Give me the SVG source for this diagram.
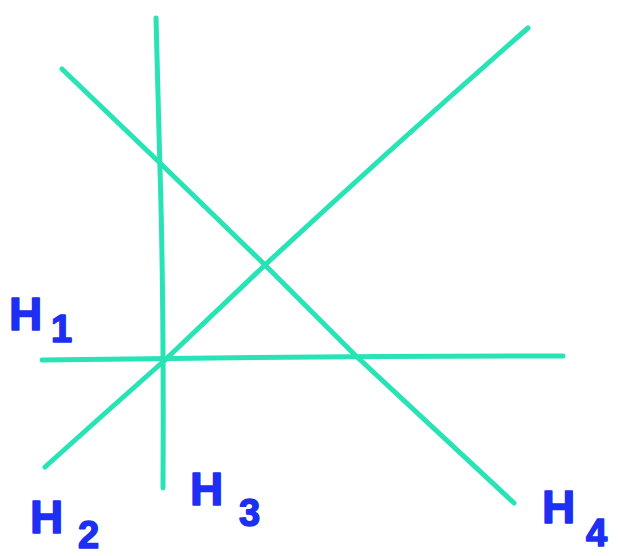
<svg xmlns="http://www.w3.org/2000/svg" width="621" height="556" viewBox="0 0 621 556">
<style>
.ln{fill:none;stroke:#27e3b5;stroke-width:5;stroke-linecap:round;stroke-linejoin:round}
.lb{font-family:"Liberation Sans",Arial,sans-serif;font-weight:bold;fill:#1c2ff2;stroke:#1c2ff2;stroke-width:1.5;stroke-linejoin:round}
.h{font-size:46px}
.s{font-size:38px}
</style>
<rect width="621" height="556" fill="#ffffff"/>
<g id="connectors">
<path class="ln" d="M156,18 Q158,100 160,170 Q164,300 163,488"/>
<path class="ln" d="M62,69 Q110,115 160,163 L265,265 Q310,310 355,355 L514,503"/>
<path class="ln" d="M45,467 Q105,413 165,360 L265,265 Q400,140 528,28"/>
<path class="ln" d="M42,360 Q300,356 563,356"/>
</g>
<g id="H1"><text class="lb" y="330"><tspan class="h" x="9">H</tspan><tspan class="s" x="51" y="342">1</tspan></text></g>
<g id="H2"><text class="lb" y="533"><tspan class="h" x="30">H</tspan><tspan class="s" x="78" y="548">2</tspan></text></g>
<g id="H3"><text class="lb" y="505"><tspan class="h" x="190">H</tspan><tspan class="s" x="239" y="526">3</tspan></text></g>
<g id="H4"><text class="lb" y="523"><tspan class="h" x="542">H</tspan><tspan class="s" x="586" y="546">4</tspan></text></g>
</svg>
